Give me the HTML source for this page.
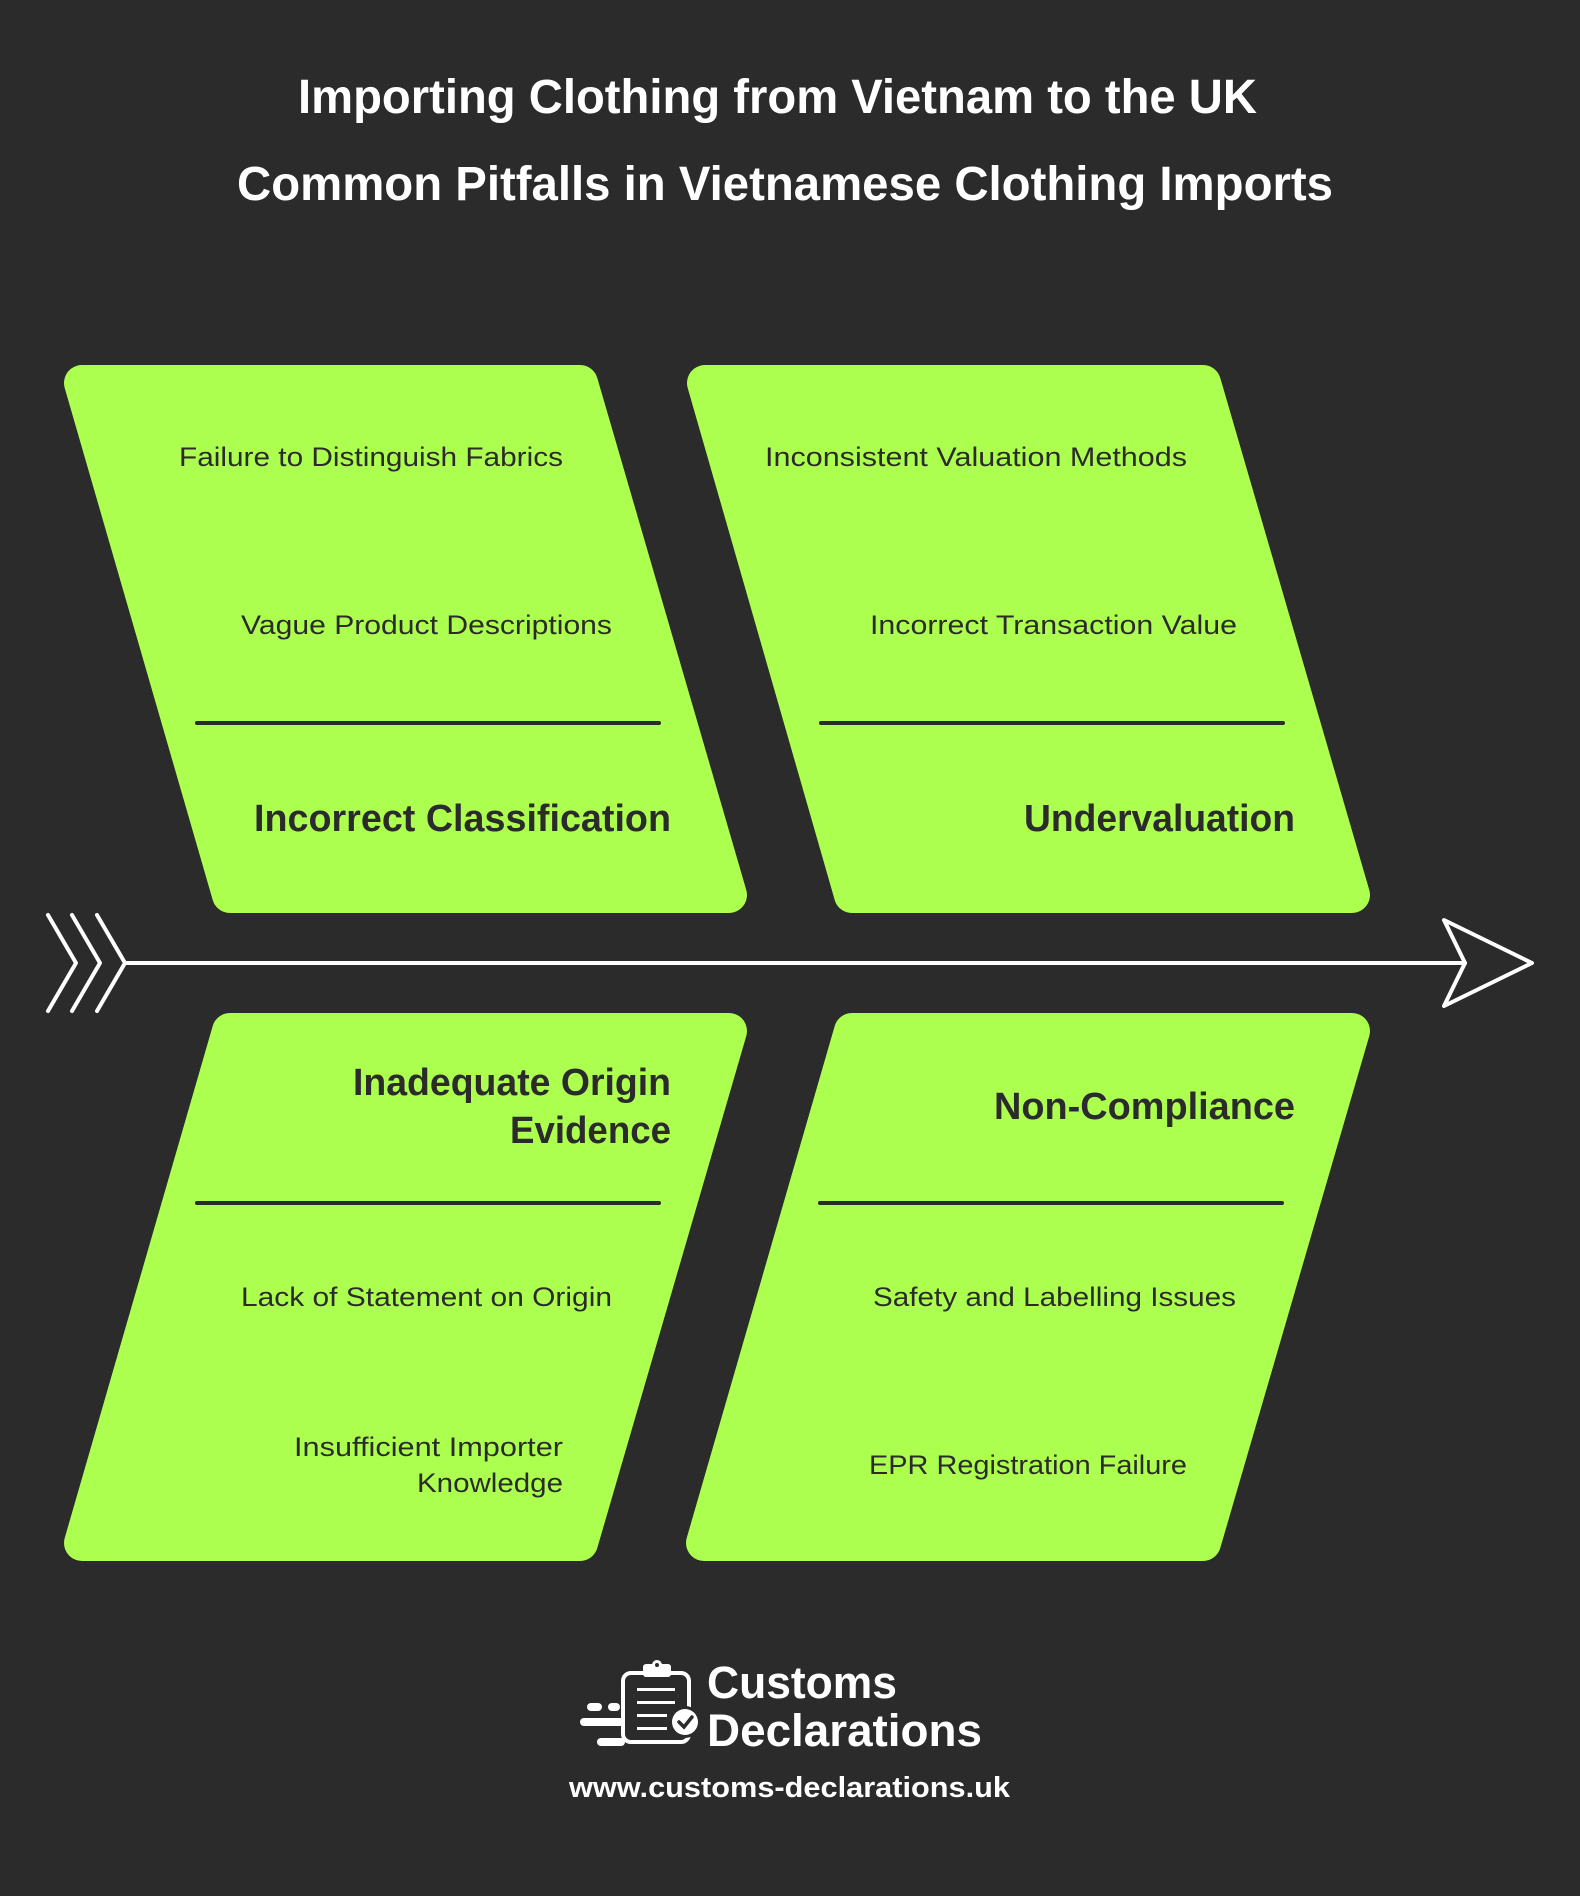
<!DOCTYPE html>
<html><head><meta charset="utf-8"><style>
html,body{margin:0;padding:0;background:#2b2b2b;}
svg{display:block}
text{font-family:"Liberation Sans",Arial,sans-serif;}
</style></head><body>
<svg width="1580" height="1896" viewBox="0 0 1580 1896" xmlns="http://www.w3.org/2000/svg">
<rect width="1580" height="1896" fill="#2b2b2b"/>
<g fill="#ffffff" font-weight="bold" font-size="48">
<text x="298" y="113" textLength="959" lengthAdjust="spacingAndGlyphs">Importing Clothing from Vietnam to the UK</text>
<text x="237" y="200" textLength="1096" lengthAdjust="spacingAndGlyphs">Common Pitfalls in Vietnamese Clothing Imports</text>
</g>
<g fill="#adff4f" stroke="#adff4f" stroke-width="36" stroke-linejoin="round">
<polygon points="82,383 580,383 729,895 230,895"/>
<polygon points="705,383 1203,383 1352,895 852,895"/>
<polygon points="230,1031 729,1031 580,1543 82,1543"/>
<polygon points="852,1031 1352,1031 1203,1543 704,1543"/>
</g>
<g stroke="#2b2b2b" stroke-width="4" stroke-linecap="round">
<line x1="197" y1="723" x2="659" y2="723"/>
<line x1="821" y1="723" x2="1283" y2="723"/>
<line x1="197" y1="1203" x2="659" y2="1203"/>
<line x1="820" y1="1203" x2="1282" y2="1203"/>
</g>
<g fill="#2b2b2b" font-size="27">
<text x="179" y="466" textLength="384" lengthAdjust="spacingAndGlyphs">Failure to Distinguish Fabrics</text>
<text x="241" y="634" textLength="371" lengthAdjust="spacingAndGlyphs">Vague Product Descriptions</text>
<text x="765" y="466" textLength="422" lengthAdjust="spacingAndGlyphs">Inconsistent Valuation Methods</text>
<text x="870" y="634" textLength="367" lengthAdjust="spacingAndGlyphs">Incorrect Transaction Value</text>
<text x="241" y="1306" textLength="371" lengthAdjust="spacingAndGlyphs">Lack of Statement on Origin</text>
<text x="294" y="1456" textLength="269" lengthAdjust="spacingAndGlyphs">Insufficient Importer</text>
<text x="417" y="1492" textLength="146" lengthAdjust="spacingAndGlyphs">Knowledge</text>
<text x="873" y="1306" textLength="363" lengthAdjust="spacingAndGlyphs">Safety and Labelling Issues</text>
<text x="869" y="1474" textLength="318" lengthAdjust="spacingAndGlyphs">EPR Registration Failure</text>
</g>
<g fill="#2b2b2b" font-size="38" font-weight="bold">
<text x="254" y="831" textLength="417" lengthAdjust="spacingAndGlyphs">Incorrect Classification</text>
<text x="1024" y="831" textLength="271" lengthAdjust="spacingAndGlyphs">Undervaluation</text>
<text x="353" y="1095" textLength="318" lengthAdjust="spacingAndGlyphs">Inadequate Origin</text>
<text x="510" y="1143" textLength="161" lengthAdjust="spacingAndGlyphs">Evidence</text>
<text x="994" y="1119" textLength="301" lengthAdjust="spacingAndGlyphs">Non-Compliance</text>
</g>
<g stroke="#ffffff" fill="none" stroke-width="4" stroke-linecap="round" stroke-linejoin="round">
<line x1="125" y1="963" x2="1465" y2="963"/>
<polyline points="48,915 76,963 48,1011"/>
<polyline points="72,915 100,963 72,1011"/>
<polyline points="97,915 125,963 97,1011"/>
<polygon points="1444,920 1532,963 1444,1006 1465,963"/>
</g>
<!-- logo -->
<g fill="#ffffff">
<rect x="623" y="1673" width="66" height="69" rx="8" fill="none" stroke="#fff" stroke-width="4"/>
<rect x="643" y="1664" width="28" height="13" rx="3"/>
<circle cx="657" cy="1665" r="5"/>
<circle cx="657" cy="1665" r="2" fill="#2b2b2b"/>
<rect x="637" y="1688" width="38" height="3"/>
<rect x="637" y="1701" width="38" height="3"/>
<rect x="637" y="1714" width="30" height="3"/>
<rect x="637" y="1727" width="30" height="3"/>
<circle cx="685" cy="1722" r="16" fill="#2b2b2b"/>
<circle cx="685" cy="1722" r="13"/>
<polyline points="679,1722 684,1727 692,1717" fill="none" stroke="#2b2b2b" stroke-width="3.5" stroke-linecap="round"/>
<rect x="587" y="1703" width="15" height="8" rx="4"/>
<rect x="608" y="1703" width="12" height="8" rx="4"/>
<rect x="580" y="1718" width="44" height="8" rx="4"/>
<rect x="597" y="1738" width="28" height="8" rx="4"/>
<g font-weight="bold">
<text x="707" y="1698" font-size="45" textLength="190" lengthAdjust="spacingAndGlyphs">Customs</text>
<text x="707" y="1746" font-size="45" textLength="275" lengthAdjust="spacingAndGlyphs">Declarations</text>
<text x="569" y="1797" font-size="29" textLength="441" lengthAdjust="spacingAndGlyphs">www.customs-declarations.uk</text>
</g>
</g>
</svg>
</body></html>
